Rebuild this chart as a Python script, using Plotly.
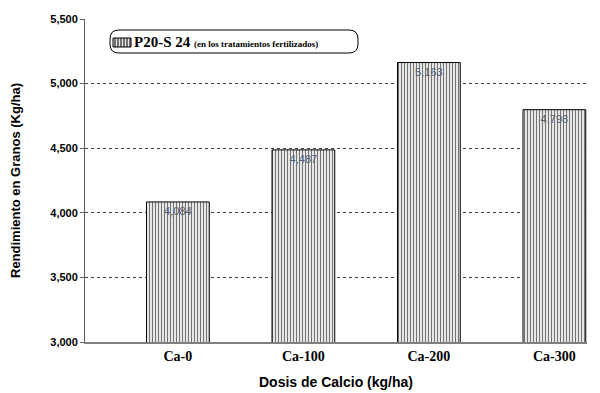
import plotly.graph_objects as go

categories = ["Ca-0", "Ca-100", "Ca-200", "Ca-300"]
rendimiento = [4084, 4487, 5163, 4798]
series_name = "P20-S 24"
series_note = "(en los tratamientos fertilizados)"
y_ticks = [3000, 3500, 4000, 4500, 5000, 5500]

W, H = 600, 393
OFF = 8  # page body margin
# plot area in window pixels: x 85..587, y 19..342
L, R = 85 - OFF, W - (587 - OFF)
T, B = 19 - OFF, H - (342 - OFF)
pw, ph = W - L - R, H - T - B

def px(x):
    return (x - OFF - L) / pw

def py(y):
    return (H - B - (y - OFF)) / ph

fig = go.Figure()
fig.add_trace(go.Bar(
    x=categories, y=rendimiento,
    name=series_name,
    width=0.5,
    showlegend=False,
    marker=dict(color="#e6e6e6", line=dict(color="#000000", width=1),
                pattern=dict(shape="|", fgcolor="#000000", bgcolor="#e6e6e6",
                             size=3, solidity=0.33, fillmode="overlay")),
    text=[f"{v:,}" for v in rendimiento], textposition="inside",
    insidetextanchor="end",
    textfont=dict(family="Arial", size=11, color="#5a6070"),
    cliponaxis=False,
))

# rounded legend frame
x0, x1, y0, y1, r = 110, 358, 30, 53, 9
path = (f"M {px(x0+r)},{py(y0)} L {px(x1-r)},{py(y0)} "
        f"Q {px(x1)},{py(y0)} {px(x1)},{py(y0+r)} L {px(x1)},{py(y1-r)} "
        f"Q {px(x1)},{py(y1)} {px(x1-r)},{py(y1)} L {px(x0+r)},{py(y1)} "
        f"Q {px(x0)},{py(y1)} {px(x0)},{py(y1-r)} L {px(x0)},{py(y0+r)} "
        f"Q {px(x0)},{py(y0)} {px(x0+r)},{py(y0)} Z")
fig.add_shape(type="path", path=path, xref="paper", yref="paper",
              line=dict(color="#000000", width=1))

# legend swatch (vertical-line pattern)
sx0, sx1, sy0, sy1 = 113, 131, 38, 47
fig.add_shape(type="rect", xref="paper", yref="paper",
              x0=px(sx0), x1=px(sx1), y0=py(sy1), y1=py(sy0),
              fillcolor="#e6e6e6", line=dict(color="#000000", width=1))
xx = sx0 + 2
while xx < sx1:
    fig.add_shape(type="line", xref="paper", yref="paper",
                  x0=px(xx), x1=px(xx), y0=py(sy1), y1=py(sy0),
                  line=dict(color="#000000", width=1))
    xx += 3

fig.add_annotation(
    xref="paper", yref="paper", x=px(132), y=py(42), xanchor="left", yanchor="middle",
    showarrow=False,
    text=f"<b>{series_name}</b> <b><span style='font-size:9px'>{series_note}</span></b>",
    font=dict(family="Liberation Serif", size=15, color="#000000"),
)

fig.update_layout(
    width=W, height=H,
    margin=dict(l=L, r=R, t=T, b=B),
    paper_bgcolor="white", plot_bgcolor="white",
    showlegend=False,
    xaxis=dict(range=[-0.74, 3.26], showline=True, linecolor="#808080",
               linewidth=1.5, ticks="", showgrid=False, automargin=False,
               tickvals=categories, ticktext=[f"<b>{c}</b>" for c in categories],
               tickfont=dict(family="Liberation Serif", size=14, color="#000000"),
               title=dict(text="<b>Dosis de Calcio (kg/ha)</b>",
                          font=dict(family="Arial", size=14, color="#000000"),
                          standoff=15)),
    yaxis=dict(range=[3000, 5500], tickvals=y_ticks,
               ticktext=[f"<b>{v:,}</b>" for v in y_ticks],
               showline=True, linecolor="#606060", linewidth=1,
               ticks="outside", ticklen=4, tickcolor="#606060",
               showgrid=True, gridcolor="#404040", griddash="dot", gridwidth=1,
               zeroline=False, automargin=False,
               tickfont=dict(family="Arial", size=11, color="#000000"),
               title=dict(text="<b>Rendimiento en Granos (Kg/ha)</b>",
                          font=dict(family="Arial", size=13, color="#000000"),
                          standoff=26)),
)

fig.write_html("out.html")
